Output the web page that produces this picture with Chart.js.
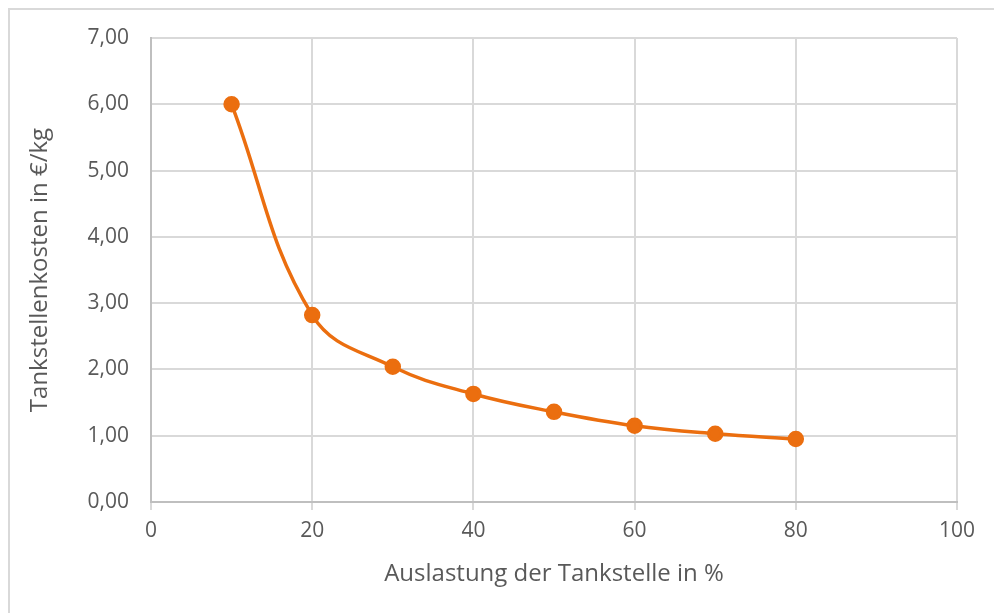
<!DOCTYPE html>
<html><head><meta charset="utf-8">
<script src="https://cdn.jsdelivr.net/npm/chart.js@4"></script>
<style>
html,body{margin:0;padding:0;background:#fff;}
#frame{position:absolute;left:8px;top:8px;width:994px;height:620px;border:2px solid #D9D9D9;box-sizing:border-box;}
#wrap{position:absolute;left:0;top:0;width:994px;height:613px;}
</style></head>
<body>
<div id="frame"></div>
<div id="wrap"><canvas id="c" width="994" height="613"></canvas></div>
<script>
const auslastung = [10, 20, 30, 40, 50, 60, 70, 80];
const kosten = [6.00, 2.82, 2.04, 1.63, 1.36, 1.15, 1.03, 0.95];
const xTitle = 'Auslastung der Tankstelle in %';
const yTitle = 'Tankstellenkosten in €/kg';

const grey = '#595959';
const gridC = '#D9D9D9';
const fontFam = '"Open Sans", "Noto Sans", sans-serif';

new Chart(document.getElementById('c'), {
  type: 'scatter',
  data: {
    datasets: [{
      data: auslastung.map((x, i) => ({x: x, y: kosten[i]})),
      showLine: true,
      borderColor: '#EB6E0F',
      backgroundColor: '#EB6E0F',
      borderWidth: 3.5,
      pointRadius: 6.5,
      pointHoverRadius: 6.5,
      tension: 0.4
    }]
  },
  options: {
    responsive: false,
    animation: false,
    layout: {padding: {left: 20, top: 38, right: 37, bottom: 20}},
    plugins: {legend: {display: false}, tooltip: {enabled: false}},
    scales: {
      x: {
        type: 'linear', min: 0, max: 100,
        ticks: {stepSize: 20, color: grey, font: {family: fontFam, size: 21}, padding: 8},
        grid: {color: gridC, lineWidth: 2, tickLength: 8, tickColor: gridC},
        border: {color: '#BFBFBF', width: 2},
        title: {display: true, text: xTitle, color: grey, font: {family: fontFam, size: 24}, padding: {top: 6}},
        afterFit: s => { s.height = 613 - 502 - 20; }
      },
      y: {
        min: 0, max: 7,
        ticks: {stepSize: 1, color: grey, font: {family: fontFam, size: 21}, padding: 22,
          callback: v => v.toFixed(2).replace('.', ',')},
        grid: {color: gridC, lineWidth: 2, tickLength: 0},
        border: {color: '#BFBFBF', width: 2},
        title: {display: true, text: yTitle, color: grey, font: {family: fontFam, size: 24}, padding: {top: 6, bottom: 0}},
        afterFit: s => { s.width = 151 - 20; }
      }
    }
  }
});
</script>
</body></html>
